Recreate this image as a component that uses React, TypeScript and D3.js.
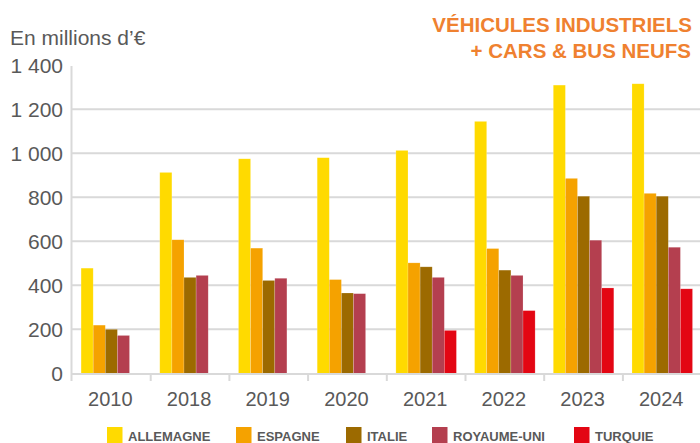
import React from "react";
import * as d3 from "d3";

const years = ["2010", "2018", "2019", "2020", "2021", "2022", "2023", "2024"];
const countries = ["ALLEMAGNE", "ESPAGNE", "ITALIE", "ROYAUME-UNI", "TURQUIE"];
const allemagne = [478, 913, 975, 980, 1013, 1145, 1310, 1316];
const espagne = [219, 607, 569, 426, 502, 567, 886, 818];
const italie = [200, 436, 422, 365, 484, 469, 805, 805];
const royaumeUni = [172, 445, 432, 362, 436, 445, 605, 573];
const turquie = [null, null, null, null, 195, 285, 388, 384];
const yTicks = [0, 200, 400, 600, 800, 1000, 1200, 1400];

const seriesValues = [allemagne, espagne, italie, royaumeUni, turquie];
const colors = ["#FFDA00", "#F5A200", "#9C6A00", "#B43F4F", "#E30613"];
const legendX = [107, 236, 346, 432, 574];

const W = 700;
const H = 443;
const FONT = "'Liberation Sans', Arial, sans-serif";
const GRAY = "#595959";
const GRID = "#D9D9D9";

const App = () => {
  const x = d3.scaleBand().domain(years).range([72, 701.6]).padding(0);
  const xs = d3
    .scaleBand()
    .domain(countries)
    .range([0, x.bandwidth()])
    .paddingInner(0)
    .paddingOuter(0.75);
  const y = d3.scaleLinear().domain([0, 1400]).range([373.3, 65.3]);
  const fmt = (v: number) => d3.format(",")(v).replace(",", " ");

  return (
    <svg
      width={W}
      height={H}
      style={{ position: "absolute", left: 0, top: 0, background: "#fff" }}
      fontFamily={FONT}
    >
      {/* grid */}
      {yTicks
        .filter(t => t > 0 && t < 1400)
        .map(t => (
          <line key={t} x1={72} x2={W} y1={y(t)} y2={y(t)} stroke={GRID} strokeWidth={2} />
        ))}

      {/* bars */}
      {seriesValues.map((vals, si) =>
        vals.map((v, i) =>
          v == null ? null : (
            <rect
              key={si + "-" + i}
              x={(x(years[i]) as number) + (xs(countries[si]) as number)}
              y={y(v)}
              width={xs.bandwidth()}
              height={y(0) - y(v)}
              fill={colors[si]}
              stroke="rgba(255,255,255,0.3)"
              strokeWidth={0.6}
            />
          )
        )
      )}

      {/* axes */}
      <line x1={71.5} x2={71.5} y1={66} y2={381} stroke={GRID} strokeWidth={2} />
      <line x1={71.5} x2={W} y1={374} y2={374} stroke={GRID} strokeWidth={2} />
      {years.slice(1).map(yr => (
        <line
          key={yr}
          x1={x(yr) as number}
          x2={x(yr) as number}
          y1={374}
          y2={381}
          stroke={GRID}
          strokeWidth={2}
        />
      ))}

      {yTicks.map(t => (
        <text
          key={t}
          x={63}
          y={y(t)}
          dy="0.35em"
          textAnchor="end"
          fontSize={21}
          fill={GRAY}
        >
          {fmt(t)}
        </text>
      ))}

      {years.map(yr => (
        <text
          key={yr}
          x={(x(yr) as number) + x.bandwidth() / 2 - 1}
          y={406}
          textAnchor="middle"
          fontSize={20}
          fill={GRAY}
        >
          {yr}
        </text>
      ))}

      <text x={10} y={45} fontSize={21} fill={GRAY}>
        En millions d’€
      </text>

      <text x={692} y={31.7} textAnchor="end" fontSize={20.5} fontWeight="bold" fill="#EF8130">
        VÉHICULES INDUSTRIELS
      </text>
      <text x={691} y={58.3} textAnchor="end" fontSize={20.5} fontWeight="bold" fill="#EF8130">
        + CARS &amp; BUS NEUFS
      </text>

      {/* legend */}
      {countries.map((c, i) => (
        <g key={c} transform={`translate(${legendX[i]},427)`}>
          <rect width={15.5} height={16} fill={colors[i]} />
          <text x={21} y={14} fontSize={13} fontWeight="bold" fill={GRAY}>
            {c}
          </text>
        </g>
      ))}
    </svg>
  );
};

export default App;
